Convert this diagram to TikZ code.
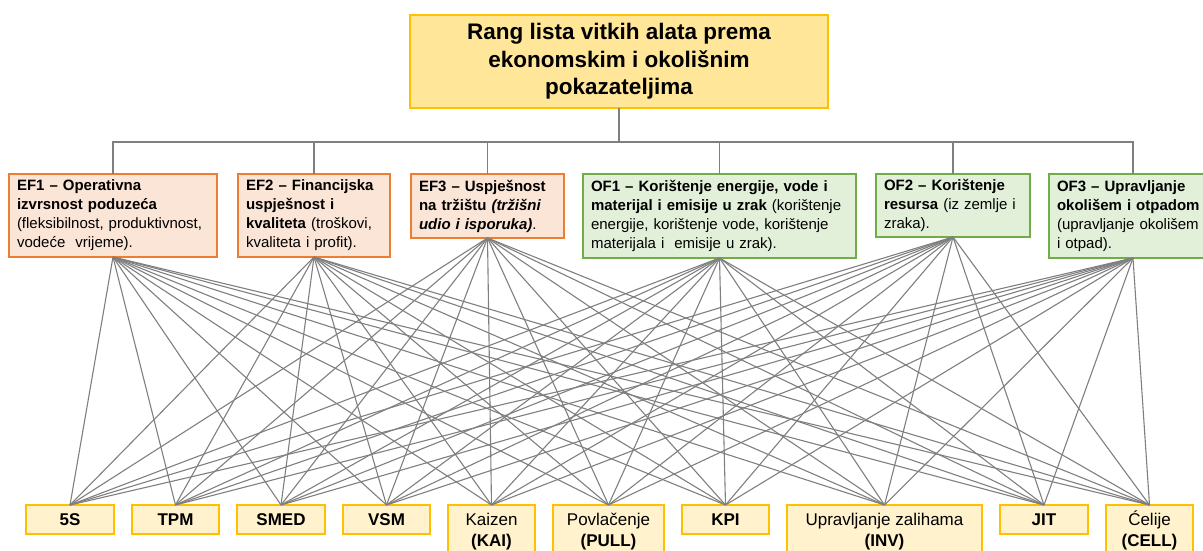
\documentclass[tikz,border=0pt]{standalone}
\usepackage{fontspec}
\setmainfont{Liberation Sans}
\usetikzlibrary{positioning}
\definecolor{gold}{HTML}{FFC000}
\definecolor{goldfill}{HTML}{FFE699}
\definecolor{toolfill}{HTML}{FFF2CC}
\definecolor{ecoline}{HTML}{ED7D31}
\definecolor{ecofill}{HTML}{FBE5D6}
\definecolor{envline}{HTML}{70AD47}
\definecolor{envfill}{HTML}{E2F0D9}
\definecolor{linegray}{HTML}{7F7F7F}
\tikzset{
 rootbox/.style={draw=gold,fill=goldfill,line width=1.5pt,align=center,minimum width=418pt,
             minimum height=93pt,outer sep=0pt,font=\bfseries\fontsize{22.5}{27.5}\selectfont},
 critbox/.style={line width=1.3pt,align=left,inner xsep=8pt,outer sep=0pt,
             font=\fontsize{15}{19}\selectfont},
 ecrit/.style={critbox,draw=ecoline,fill=ecofill},
 ocrit/.style={critbox,draw=envline,fill=envfill},
 toolbox/.style={draw=gold,fill=toolfill,line width=1.3pt,align=center,minimum height=29pt,
             inner ysep=8.5pt,outer sep=0pt,font=\fontsize{17}{21}\selectfont},
 tree/.style={draw=linegray,line width=1.4pt},
 link/.style={draw=linegray,line width=1.1pt}
}
\begin{document}
\begin{tikzpicture}[x=1pt,y=-1pt]
\useasboundingbox (0,0) rectangle (1203,551);
\clip (0,0) rectangle (1203,551);
\node[rootbox,anchor=north] (rang) at (619,15) {Rang lista vitkih alata prema\\ekonomskim i okolišnim\\pokazateljima};
\node[ecrit,text width=192pt,minimum height=83pt,anchor=north west] (ef1) at (9,174)
 {\textbf{EF1 – Operativna}\\\textbf{izvrsnost poduzeća}\\(fleksibilnost, produktivnost,\\vodeće \ vrijeme).};
\node[ecrit,text width=136pt,minimum height=83pt,right=21pt of ef1.north east,anchor=north west] (ef2)
 {\textbf{EF2 – Financijska}\\\textbf{uspješnost i}\\\textbf{kvaliteta} (troškovi,\\kvaliteta i profit).};
\node[ecrit,text width=137pt,minimum height=64pt,right=21pt of ef2.north east,anchor=north west] (ef3)
 {\textbf{EF3 – Uspješnost}\\\textbf{na tržištu \textit{(tržišni}}\\\textbf{\textit{udio i isporuka)}}.};
\node[ocrit,text width=257pt,minimum height=84pt,right=19pt of ef3.north east,anchor=north west] (of1)
 {\textbf{OF1 – Korištenje energije, vode i}\\\textbf{materijal i emisije u zrak} (korištenje\\energije, korištenje vode, korištenje\\materijala i \ emisije u zrak).};
\node[ocrit,text width=138pt,minimum height=63pt,right=20pt of of1.north east,anchor=north west] (of2)
 {\textbf{OF2 – Korištenje}\\\textbf{resursa} (iz zemlje i\\zraka).};
\node[ocrit,text width=152pt,minimum height=84pt,right=19pt of of2.north east,anchor=north west] (of3)
 {\textbf{OF3 – Upravljanje}\\\textbf{okolišem i otpadom}\\(upravljanje okolišem\\i otpad).};
\node[toolbox,minimum width=88pt,anchor=north west] (s5) at (26,505) {\textbf{5S}};
\node[toolbox,minimum width=87pt,right=18pt of s5.north east,anchor=north west] (tpm) {\textbf{TPM}};
\node[toolbox,minimum width=88pt,right=18pt of tpm.north east,anchor=north west] (smed) {\textbf{SMED}};
\node[toolbox,minimum width=87pt,right=18pt of smed.north east,anchor=north west] (vsm) {\textbf{VSM}};
\node[toolbox,minimum width=87pt,right=18pt of vsm.north east,anchor=north west] (kai) {Kaizen\\\textbf{(KAI)}};
\node[toolbox,minimum width=111pt,right=18pt of kai.north east,anchor=north west] (pull) {Povlačenje\\\textbf{(PULL)}};
\node[toolbox,minimum width=87pt,right=18pt of pull.north east,anchor=north west] (kpi) {\textbf{KPI}};
\node[toolbox,minimum width=195pt,right=18pt of kpi.north east,anchor=north west] (inv) {Upravljanje zalihama\\\textbf{(INV)}};
\node[toolbox,minimum width=88pt,right=18pt of inv.north east,anchor=north west] (jit) {\textbf{JIT}};
\node[toolbox,minimum width=87pt,right=18pt of jit.north east,anchor=north west] (cell) {\smash{Ć}elije\\\textbf{(CELL)}};
\foreach \c in {ef1,ef2,ef3,of1,of2,of3}
  \draw[tree] (rang.south) -- ++(0,34) -| (\c.north);
\foreach \c in {ef1,ef2,ef3,of1,of2,of3}
  \foreach \t in {s5,tpm,smed,vsm,kai,pull,kpi,inv,jit,cell}
    \draw[link] (\c.south) -- (\t.north);
\end{tikzpicture}
\end{document}
